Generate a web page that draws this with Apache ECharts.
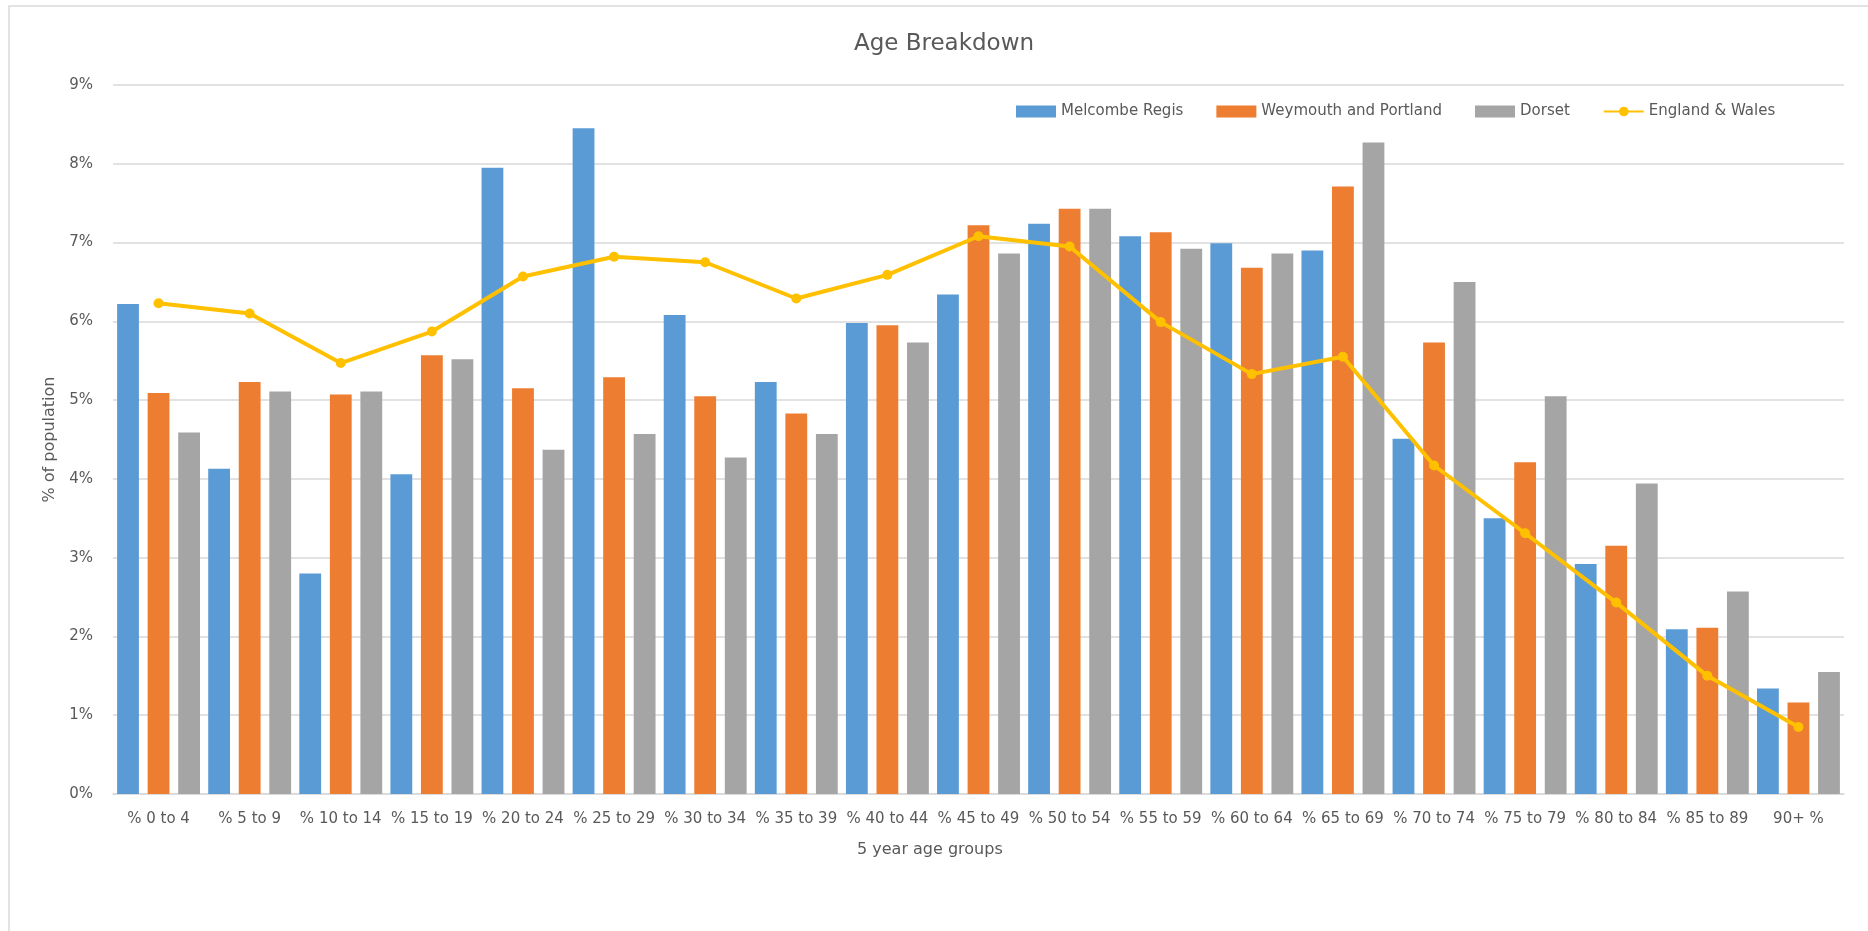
<!DOCTYPE html>
<html>
<head>
<meta charset="utf-8">
<title>Age Breakdown</title>
<script src="https://cdn.jsdelivr.net/npm/echarts@6/dist/echarts.min.js"></script>
<style>
  html, body { margin: 0; padding: 0; background: #fff; }
  #chart { width: 1868px; height: 931px; }
</style>
</head>
<body>
<div id="chart"></div>
<script>
const ageGroups = ['% 0 to 4', '% 5 to 9', '% 10 to 14', '% 15 to 19', '% 20 to 24', '% 25 to 29',
  '% 30 to 34', '% 35 to 39', '% 40 to 44', '% 45 to 49', '% 50 to 54', '% 55 to 59',
  '% 60 to 64', '% 65 to 69', '% 70 to 74', '% 75 to 79', '% 80 to 84', '% 85 to 89', '90+ %']

// values in percent
const melcombeRegis = [6.22, 4.13, 2.80, 4.06, 7.95, 8.45, 6.08, 5.23, 5.98, 6.34,
  7.24, 7.08, 6.99, 6.90, 4.51, 3.50, 2.92, 2.09, 1.34]
const weymouthPortland = [5.09, 5.23, 5.07, 5.57, 5.15, 5.29, 5.05, 4.83, 5.95, 7.22,
  7.43, 7.13, 6.68, 7.71, 5.73, 4.21, 3.15, 2.11, 1.16]
const dorset = [4.59, 5.11, 5.11, 5.52, 4.37, 4.57, 4.27, 4.57, 5.73, 6.86,
  7.43, 6.92, 6.86, 8.27, 6.50, 5.05, 3.94, 2.57, 1.55]
const englandWales = [6.23, 6.10, 5.47, 5.87, 6.57, 6.82, 6.75, 6.29, 6.59, 7.08,
  6.95, 5.99, 5.33, 5.55, 4.17, 3.31, 2.43, 1.50, 0.85]

const TEXT_COLOR = '#595959'
const GRID_COLOR = '#d9d9d9'
const FONT = 'DejaVu Sans'

const chart = echarts.init(document.getElementById('chart'))

const barSeries = (name, data, color) => ({
  name,
  type: 'bar',
  data,
  barGap: '40%',
  barCategoryGap: '9%',
  itemStyle: { color },
  emphasis: { disabled: true }
})

const option = {
  animation: false,
  textStyle: { fontFamily: FONT },
  title: {
    text: 'Age Breakdown',
    left: 939,
    top: 28,
    textAlign: 'center',
    textStyle: {
      color: TEXT_COLOR,
      fontSize: 23,
      fontWeight: 'normal',
      fontFamily: FONT
    }
  },
  legend: {
    left: 1011,
    top: 99,
    itemWidth: 40,
    itemHeight: 12,
    itemGap: 33,
    textStyle: { color: TEXT_COLOR, fontSize: 15, fontFamily: FONT },
    data: [
      { name: 'Melcombe Regis', icon: 'rect' },
      { name: 'Weymouth and Portland', icon: 'rect' },
      { name: 'Dorset', icon: 'rect' },
      'England & Wales'
    ]
  },
  grid: {
    left: 113,
    right: 24,
    top: 85,
    bottom: 137
  },
  graphic: [
    { // 外框
      type: 'rect',
      shape: { x: 9, y: 6, width: 1900, height: 1000 },
      style: { fill: 'none', stroke: GRID_COLOR, lineWidth: 1.5 },
      silent: true
    },
    {
      type: 'text',
      left: 939 - 82,
      top: 842,
      style: {
        text: '5 year age groups',
        fill: TEXT_COLOR,
        font: '16px "DejaVu Sans"'
      }
    }
  ],
  xAxis: {
    type: 'category',
    data: ageGroups,
    axisLine: { lineStyle: { color: GRID_COLOR, width: 1.5 } },
    axisTick: { show: false },
    axisLabel: {
      interval: 0,
      color: TEXT_COLOR,
      fontSize: 15,
      margin: 18
    }
  },
  yAxis: {
    type: 'value',
    min: 0,
    max: 9,
    interval: 1,
    name: '% of population',
    nameLocation: 'middle',
    nameGap: 48,
    nameTextStyle: { color: TEXT_COLOR, fontSize: 16 },
    axisLine: { show: false },
    axisTick: { show: false },
    axisLabel: {
      color: TEXT_COLOR,
      fontSize: 15,
      margin: 20,
      formatter: '{value}%'
    },
    splitLine: { lineStyle: { color: GRID_COLOR, width: 1.5 } }
  },
  series: [
    barSeries('Melcombe Regis', melcombeRegis, '#5B9BD5'),
    barSeries('Weymouth and Portland', weymouthPortland, '#ED7D31'),
    barSeries('Dorset', dorset, '#A5A5A5'),
    {
      name: 'England & Wales',
      type: 'line',
      data: englandWales,
      symbol: 'circle',
      symbolSize: 10,
      itemStyle: { color: '#FFC000' },
      lineStyle: { color: '#FFC000', width: 4 },
      emphasis: { disabled: true },
      z: 5
    }
  ]
}

chart.setOption(option)
</script>
</body>
</html>
